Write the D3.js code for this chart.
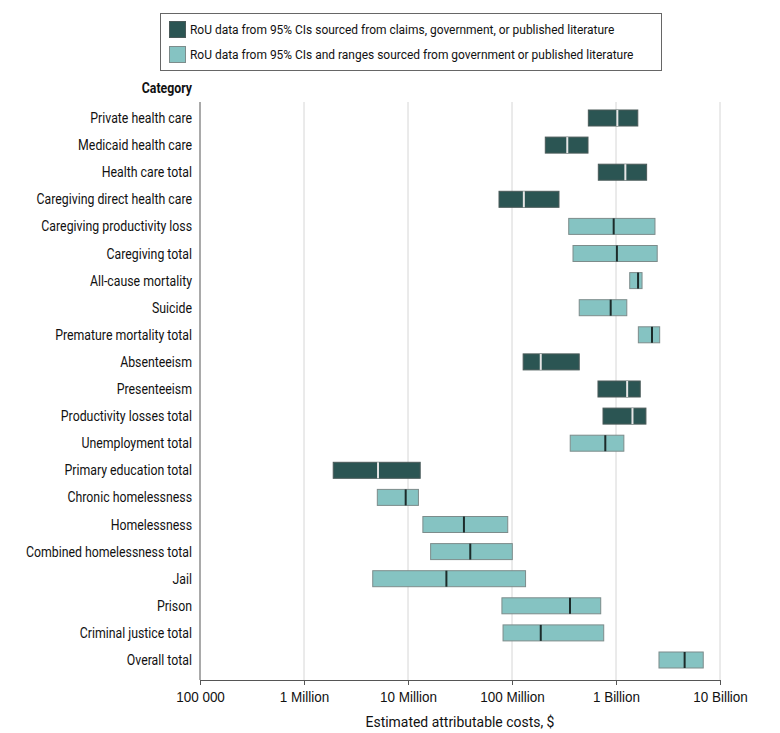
<!DOCTYPE html>
<html>
<head>
<meta charset="utf-8">
<script src="https://cdn.jsdelivr.net/npm/d3@7"></script>
<style>
  body { margin: 0; background: #fff; }
  svg { font-family: Roboto, "Liberation Sans", sans-serif; }
</style>
</head>
<body>
<svg id="chart" width="780" height="733"></svg>
<script>
// categories, top to bottom
const categories = [
    "Private health care", "Medicaid health care", "Health care total",
    "Caregiving direct health care", "Caregiving productivity loss", "Caregiving total",
    "All-cause mortality", "Suicide", "Premature mortality total",
    "Absenteeism", "Presenteeism", "Productivity losses total", "Unemployment total",
    "Primary education total", "Chronic homelessness", "Homelessness",
    "Combined homelessness total", "Jail", "Prison", "Criminal justice total", "Overall total"
];
// 0 = claims, government, or published literature (95% CIs); 1 = CIs and ranges
const source = [0, 0, 0, 0, 1, 1, 1, 1, 1, 0, 0, 0, 1, 0, 1, 1, 1, 1, 1, 1, 1];
const lower = [
    542e6, 209e6, 676e6, 75e6, 351e6, 386e6, 1.355e9, 443e6, 1.64e9,
    128e6, 671e6, 750e6, 363e6, 1.91e6, 5.07e6, 13.9e6, 16.5e6, 4.58e6, 80e6, 82e6, 2.59e9
];
const upper = [
    1.62e9, 538e6, 1.97e9, 283e6, 2.37e9, 2.49e9, 1.78e9, 1.27e9, 2.63e9,
    443e6, 1.71e9, 1.94e9, 1.19e9, 13.1e6, 12.6e6, 91e6, 100.7e6, 135e6, 713e6, 762e6, 6.9e9
];
const estimate = [
    1.03e9, 340e6, 1.23e9, 130e6, 950e6, 1.02e9, 1.63e9, 889e6, 2.22e9,
    189e6, 1.28e9, 1.44e9, 789e6, 5.15e6, 9.5e6, 34.5e6, 39.7e6, 23.4e6, 361e6, 189e6, 4.57e9
];
const tickValues = [1e5, 1e6, 1e7, 1e8, 1e9, 1e10];
const tickLabels = ["100 000", "1 Million", "10 Million", "100 Million", "1 Billion", "10 Billion"];
const legendLabels = [
    "RoU data from 95% CIs sourced from claims, government, or published literature",
    "RoU data from 95% CIs and ranges sourced from government or published literature"
];

const fillColors = ["#2b5553", "#85c3c2"];
const strokeColors = ["#4a5a59", "#7d8c8b"];
const medianColors = ["#e6e6e6", "#1c2b2a"];

const rows = categories.map((c, i) => ({
    name: c, src: source[i], lo: lower[i], hi: upper[i], est: estimate[i]
}));

const plotLeft = 200, plotRight = 720, plotTop = 102, plotBottom = 680;
const barH = 16;
const narrow = 0.88; // the original uses a condensed face

const xScale = d3.scaleLog()
    .domain([1e5, 1e10])
    .range([plotLeft, plotRight]);

const yScale = d3.scalePoint()
    .domain(categories)
    .range([118, 660]);

const Fig = d3.select("#chart");

// gridlines
Fig.append("g")
    .selectAll("line")
    .data(tickValues.slice(1))
    .join("line")
    .attr("x1", d => xScale(d))
    .attr("x2", d => xScale(d))
    .attr("y1", plotTop)
    .attr("y2", plotBottom)
    .attr("stroke", "#d6d6d6")
    .attr("stroke-width", 1);

// bars
const bars = Fig.append("g")
    .selectAll("g")
    .data(rows)
    .join("g");

bars.append("rect")
    .attr("x", d => xScale(d.lo))
    .attr("y", d => yScale(d.name) - barH / 2)
    .attr("width", d => xScale(d.hi) - xScale(d.lo))
    .attr("height", barH)
    .attr("fill", d => fillColors[d.src])
    .attr("stroke", d => strokeColors[d.src])
    .attr("stroke-width", 1);

bars.append("line")
    .attr("x1", d => xScale(d.est))
    .attr("x2", d => xScale(d.est))
    .attr("y1", d => yScale(d.name) - barH / 2)
    .attr("y2", d => yScale(d.name) + barH / 2)
    .attr("stroke", d => medianColors[d.src])
    .attr("stroke-width", 2);

// x axis
const x_axis = d3.axisBottom(xScale)
    .tickValues(tickValues)
    .tickFormat((d, i) => tickLabels[i])
    .tickSize(5)
    .tickSizeOuter(0);

const xAxisG = Fig.append("g")
    .attr("transform", `translate(0,${plotBottom})`)
    .call(x_axis);
xAxisG.select(".domain").attr("stroke", "#555");
xAxisG.selectAll(".tick line").attr("stroke", "#555");
xAxisG.selectAll(".tick text")
    .attr("fill", "#111")
    .attr("y", 0)
    .attr("dy", 0)
    .attr("transform", `translate(0,22) scale(0.9,1)`)
    .style("font-size", "15px")
    .style("font-family", "inherit");

// y axis line
Fig.append("line")
    .attr("x1", plotLeft).attr("x2", plotLeft)
    .attr("y1", plotTop).attr("y2", plotBottom)
    .attr("stroke", "#555");

// category labels
Fig.append("g")
    .selectAll("text")
    .data(categories)
    .join("text")
    .attr("transform", d => `translate(192,${yScale(d)}) scale(${narrow},1)`)
    .attr("dy", "0.36em")
    .attr("text-anchor", "end")
    .attr("fill", "#111")
    .style("font-size", "14px")
    .text(d => d);

Fig.append("text")
    .attr("transform", `translate(192,93) scale(${narrow},1)`)
    .attr("text-anchor", "end")
    .attr("fill", "#111")
    .style("font-size", "14px")
    .style("font-weight", "bold")
    .text("Category");

// axis title
Fig.append("text")
    .attr("transform", `translate(${(plotLeft + plotRight) / 2},727) scale(0.9,1)`)
    .attr("text-anchor", "middle")
    .attr("fill", "#111")
    .style("font-size", "15.5px")
    .text("Estimated attributable costs, $");

// legend
const legendG = Fig.append("g");
legendG.append("rect")
    .attr("x", 160.5)
    .attr("y", 13.5)
    .attr("width", 501)
    .attr("height", 57)
    .attr("fill", "#fff")
    .attr("stroke", "#666");

legendLabels.forEach((label, i) => {
    const item = legendG.append("g")
        .attr("transform", `translate(169,${21 + i * 25})`);
    item.append("rect")
        .attr("x", 0.5)
        .attr("y", 0.5)
        .attr("width", 16)
        .attr("height", 16)
        .attr("fill", fillColors[i])
        .attr("stroke", strokeColors[i]);
    item.append("text")
        .attr("transform", `translate(21,13) scale(${narrow},1)`)
        .attr("fill", "#111")
        .style("font-size", "13.6px")
        .text(label);
});
</script>
</body>
</html>
